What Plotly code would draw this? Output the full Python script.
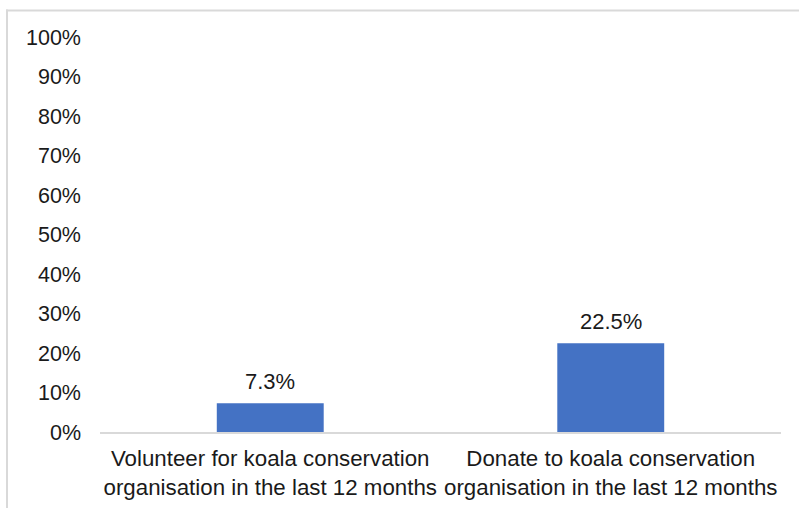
import plotly.graph_objects as go

categories = ["Volunteer for koala conservation<br>organisation in the last 12 months",
              "Donate to koala conservation<br>organisation in the last 12 months"]
values = [7.3, 22.5]
value_labels = ["7.3%", "22.5%"]
tick_vals = [0, 10, 20, 30, 40, 50, 60, 70, 80, 90, 100]
tick_text = ["0%", "10%", "20%", "30%", "40%", "50%", "60%", "70%", "80%", "90%", "100%"]

W, H = 799, 508
L, R, T, B = 100, 18, 36.5, 75.5
pw, ph = W - L - R, H - T - B

def px(x):
    return (x - L) / pw

def py(y):
    return (H - B - y) / ph

fam = "Liberation Sans, Arial, sans-serif"
col = "#1a1a1a"
font_y = dict(family=fam, size=21.5, color=col)
font_x = dict(family=fam, size=22.3, color=col)
font_v = dict(family=fam, size=22, color=col)

fig = go.Figure()
fig.add_trace(go.Bar(x=categories, y=values, marker=dict(color="#4472C4", line=dict(width=0)),
                     hoverinfo="skip"))

for c, v, t in zip(categories, values, value_labels):
    fig.add_annotation(x=c, y=v, text=t, showarrow=False, yanchor="middle", yshift=22,
                       font=font_v)

fig.add_shape(type="line", xref="paper", yref="paper", x0=px(6), x1=px(800), y0=py(10), y1=py(10),
              line=dict(color="#d9d9d9", width=2))
fig.add_shape(type="line", xref="paper", yref="paper", x0=px(7), x1=px(7), y0=py(9), y1=py(510),
              line=dict(color="#d9d9d9", width=2))

fig.update_layout(
    width=W, height=H,
    margin=dict(l=L, r=R, t=T, b=B, pad=0, autoexpand=False),
    paper_bgcolor="white", plot_bgcolor="white",
    bargap=0.686,
    showlegend=False,
    font=font_y,
    xaxis=dict(showgrid=False, showline=True, linecolor="#d9d9d9", linewidth=2,
               ticks="", tickfont=font_x, ticklabelstandoff=5, fixedrange=True,
               automargin=False),
    yaxis=dict(range=[0, 100], tickvals=tick_vals, ticktext=tick_text, showgrid=False,
               zeroline=False, showline=False, ticks="", tickfont=font_y,
               ticklabelstandoff=18, fixedrange=True, automargin=False),
)

fig.write_html("out.html")
